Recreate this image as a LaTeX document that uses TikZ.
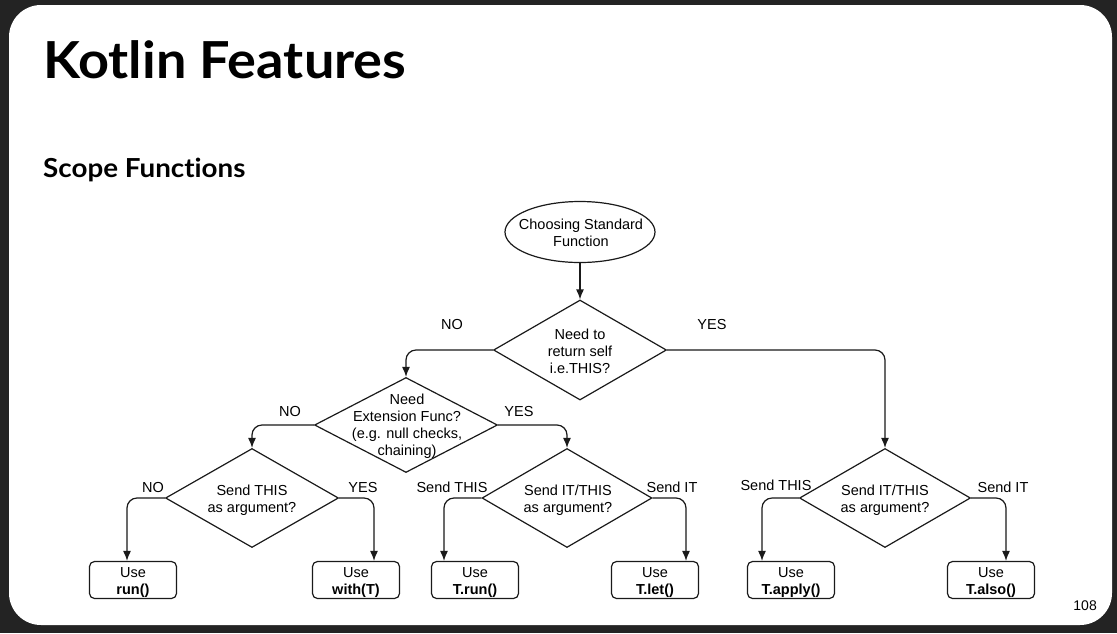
\documentclass[tikz,border=0pt]{standalone}
\usepackage{fontspec}
\setmainfont{Liberation Sans}
\newfontfamily\slidefont[FakeStretch=1.06, Ligatures=NoCommon]{Lato}
\usetikzlibrary{shapes.geometric,arrows.meta}
\definecolor{slidebg}{HTML}{232323}
\definecolor{ink}{HTML}{1A1A1A}
\tikzset{
  chart/.style={font=\fontsize{14.5}{17}\selectfont, align=center, inner sep=0pt},
  decision/.style={diamond, draw=ink, line width=1.2pt, minimum width=173pt, minimum height=99pt, inner sep=0pt},
  usebox/.style={draw=ink, line width=1.2pt, rounded corners=5pt, minimum width=87pt, minimum height=37pt, inner sep=0pt},
  flow/.style={->, draw=ink, line width=1.2pt, rounded corners=10pt},
  answer/.style={chart},
}
\begin{document}
\begin{tikzpicture}[x=1pt, y=-1pt, >={Latex[length=10pt,width=8pt]}]
  \fill[slidebg] (0,0) rectangle (1117,633);
  \fill[white, rounded corners=32pt] (9,5) rectangle (1112,625);
  \useasboundingbox (0,0) rectangle (1117,633);

  \node[anchor=base west, inner sep=0pt, font=\slidefont\bfseries\fontsize{51}{60}\selectfont] (title) at (43,78) {Kotlin Features};
  \node[anchor=base west, inner sep=0pt, font=\slidefont\bfseries\fontsize{26.2}{32}\selectfont] (subtitle) at (43,177) {Scope Functions};
  \node[anchor=base east, inner sep=0pt, font=\fontsize{14}{16}\selectfont] (page) at (1097,610) {108};

  % questions
  \node[ellipse, draw=ink, line width=1.2pt, minimum width=150pt, minimum height=61pt] (start) at (580,232) {};
  \node[chart] (start-t) at (581,233) {Choosing Standard\\Function};
  \node[decision, minimum width=173pt, minimum height=100pt] (ret) at (580,350) {};
  \node[chart] (ret-t) at (580,351) {Need to\\return self\\i.e.THIS?};
  \node[decision, minimum width=183pt, minimum height=95pt] (ext) at (406,425) {};
  \node[chart] (ext-t) at (407,426) {Need\\Extension Func?\\(e.g. null checks,\\chaining)};
  \node[decision] (this) at (252,498) {};
  \node[chart] (this-t) at (252,500) {Send THIS\\as argument?};
  \node[decision, minimum width=170pt] (itl) at (567,498) {};
  \node[chart] (itl-t) at (568,500) {Send IT/THIS\\as argument?};
  \node[decision, minimum width=171pt] (itr) at (885,498) {};
  \node[chart] (itr-t) at (885,500) {Send IT/THIS\\as argument?};

  % answers
  \foreach \name/\x/\fn in {run/133/run(), with/356/with(T), trun/475/T.run(), tlet/655/T.let(), tapply/791/T.apply(), talso/991/T.also()}
  {
    \node[usebox] (\name) at (\x,580) {};
    \node[chart] (\name-t) at (\x,583) {Use\\\textbf{\fn}};
  }

  \draw[flow] (start.south) -- (ret.north);
  \draw[flow] (ret.west) -| (ext.north);
  \draw[flow] (ret.east) -| (itr.north);
  \draw[flow] (ext.west) -| (this.north);
  \draw[flow] (ext.east) -| (itl.north);
  \draw[flow] (this.west) -| ([xshift=-6pt]run.north);
  \draw[flow] (this.east) -| ([xshift=18pt]with.north);
  \draw[flow] (itl.west) -| ([xshift=-31pt]trun.north);
  \draw[flow] (itl.east) -| ([xshift=31pt]tlet.north);
  \draw[flow] (itr.west) -| ([xshift=-29pt]tapply.north);
  \draw[flow] (itr.east) -| ([xshift=15pt]talso.north);

  \node[answer] (ret-no) at (452,325) {NO};
  \node[answer] (ret-yes) at (712,325) {YES};
  \node[answer] (ext-no) at (290,411) {NO};
  \node[answer] (ext-yes) at (519,411) {YES};
  \node[answer] (this-no) at (153,487) {NO};
  \node[answer] (this-yes) at (363,487) {YES};
  \node[answer] (itl-this) at (452,487) {Send THIS};
  \node[answer] (itl-it) at (672,487) {Send IT};
  \node[answer] (itr-this) at (776,485) {Send THIS};
  \node[answer] (itr-it) at (1003,487) {Send IT};
\end{tikzpicture}
\end{document}
